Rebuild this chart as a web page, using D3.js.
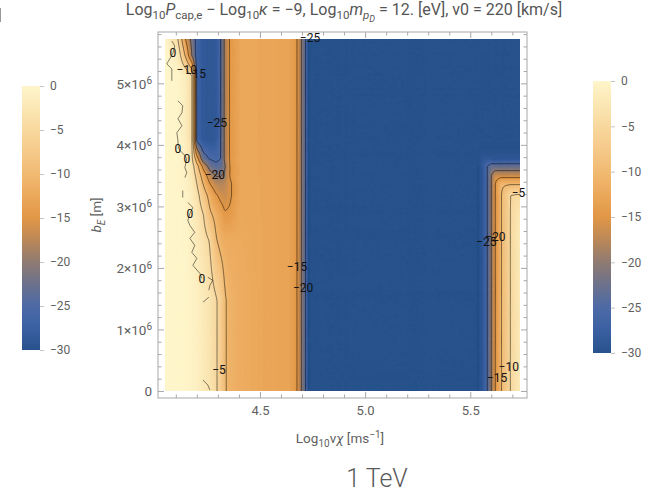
<!DOCTYPE html>
<html>
<head>
<meta charset="utf-8">
<script src="https://cdn.jsdelivr.net/npm/d3@7"></script>
<style>
  body { margin: 0; background: #fff; }
  text { font-family: Roboto, "Liberation Sans", Arial, sans-serif; }
</style>
</head>
<body>
<svg id="chart" width="652" height="492"></svg>
<script>
// ---- Data -------------------------------------------------------------
// Grid nodes: Log10 vχ [m/s] (columns) and b_E [10^6 m] (rows)
const logV = [4.049, 4.110, 4.148, 4.176, 4.200, 4.229, 4.262, 4.290, 4.314, 4.333, 4.357, 4.405,
              4.524, 4.643, 4.676, 4.695, 4.714, 4.733,
              5.167, 5.529, 5.557, 5.581, 5.600, 5.619, 5.648, 5.690, 5.736];
const bE = [0, 1.47, 2.45, 2.85, 3.18, 3.37, 3.50, 3.65, 3.78, 4.07, 4.72, 5.12, 5.45, 5.72];

// Log10 P_cap,e − Log10 κ at each node (one row per b_E value, bottom to top)
const logP = [
  [0.5, 0.3, 0, -0.5, -1, -1.8, -3, -4.5, -6.5, -9.6, -11, -11.8,   -12.8, -13.2, -14.8, -19.5, -24, -31,   -31, -31, -28.5, -25, -20, -15, -10, -5, -2],
  [0.5, 0.3, 0, -0.5, -1, -1.8, -3, -4.5, -6.5, -9.6, -11, -11.8,   -12.8, -13.2, -14.8, -19.5, -24, -31,   -31, -31, -28.5, -25, -20, -15, -10, -5, -2],
  [0.5, 0.2, -0.2, -1, -2, -3.3, -5.3, -9.6, -11.2, -11.8, -12, -12.2, -12.8, -13.2, -14.8, -19.5, -24, -31, -31, -31, -28.5, -25, -20, -15, -10, -5, -2],
  [0.5, 0.2, -0.3, -1.2, -2.5, -4.6, -9.2, -11, -13, -14.6, -14.4, -12.5, -12.8, -13.2, -14.8, -19.5, -24, -31, -31, -31, -28.5, -25, -20, -15, -10, -5, -2.5],
  [0.5, 0.1, -0.5, -1.5, -3.5, -7.5, -11.5, -14.5, -16, -16.5, -15.5, -12.5, -12.8, -13.2, -14.8, -19.5, -24, -31, -31, -31, -28.5, -25, -20, -15, -10, -5, -4.5],
  [0.5, 0, -0.7, -2, -5, -10, -15, -17.5, -18, -17.5, -15.5, -12.5, -12.8, -13.2, -14.8, -19.5, -24, -31, -31, -31, -28.5, -25, -20, -15, -10.5, -10.5, -10.5],
  [0.5, 0, -0.8, -2.5, -6, -12, -17.5, -20.3, -20.3, -19, -14.8, -12.6, -12.8, -13.2, -14.8, -19.5, -24, -31, -31, -31, -28.5, -25, -20, -16.5, -16.5, -16.5, -16.5],
  [0.5, 0, -1, -3, -8, -16, -22, -24, -23.5, -20.5, -14.8, -12.6, -12.8, -13.2, -14.8, -19.5, -24, -31, -31, -31, -28.5, -25, -23, -23, -23, -23, -23],
  [0.5, 0, -1.2, -4, -13, -23, -25.5, -26, -25, -19, -14.6, -12.6, -12.8, -13.2, -14.8, -19.5, -24, -31, -31, -31, -29, -29, -29, -29, -29, -29, -29],
  [0.5, 0, -1.5, -4.5, -26, -28.5, -29, -28.5, -25, -19, -14.6, -12.6, -12.8, -13.2, -14.8, -19.5, -24, -31, -31, -31, -31, -31, -31, -31, -31, -31, -31],
  [0.5, 0, -1.5, -4.5, -26, -28.5, -29, -28.5, -25, -19, -14.6, -12.6, -12.8, -13.2, -14.8, -19.5, -24, -31, -31, -31, -31, -31, -31, -31, -31, -31, -31],
  [0.5, 0, -1.5, -4.5, -26, -28.5, -29, -28.5, -25, -19, -14.6, -12.6, -12.8, -13.2, -14.8, -19.5, -24, -31, -31, -31, -31, -31, -31, -31, -31, -31, -31],
  [0.5, -2, -11, -20, -27, -28.5, -29, -28.5, -25, -19, -14.6, -12.6, -12.8, -13.2, -14.8, -19.5, -24, -31, -31, -31, -31, -31, -31, -31, -31, -31, -31],
  [0, -5, -15.5, -21.5, -26.5, -28.5, -29, -28.5, -25, -19, -14.6, -12.6, -12.8, -13.2, -14.8, -19.5, -24, -31, -31, -31, -31, -31, -31, -31, -31, -31, -31]
];

// Contour levels drawn from the grid
const contourLevels = [-25, -20, -15, -10, -5];

// The ragged zero-level contour in the low-velocity region, [Log10 vχ, b_E]
const zeroTraces = [
  [[4.081, 5.689], [4.095, 5.608], [4.086, 5.49], [4.071, 5.397], [4.057, 5.316], [4.081, 5.235], [4.081, 5.041]],
  [[4.110, 4.716], [4.133, 4.635], [4.129, 4.522], [4.110, 4.425], [4.129, 4.311], [4.105, 4.198], [4.110, 4.068],
   [4.112, 3.94], [4.143, 3.825], [4.152, 3.776], [4.143, 3.63], [4.152, 3.549], [4.143, 3.468]],
  [[4.133, 3.258], [4.133, 3.144]],
  [[4.157, 3.063], [4.181, 2.982], [4.167, 2.885], [4.157, 2.771], [4.167, 2.69], [4.190, 2.577], [4.167, 2.480],
   [4.190, 2.366], [4.176, 2.253], [4.200, 2.156], [4.181, 2.042], [4.214, 1.912], [4.224, 1.831]],
  [[4.252, 1.848], [4.276, 1.799], [4.262, 1.718], [4.257, 1.637]],
  [[4.257, 1.524], [4.229, 1.442]],
  [[4.229, 0.178], [4.252, 0.097], [4.262, 0.016]]
];

// Contour labels: text and anchor point [Log10 vχ, b_E]
const labelText = ["0", "−10", "−15", "−25", "0", "0", "−20", "0", "0", "−5",
                   "−25", "−15", "−20", "−5", "−25", "−20", "−10", "−15"];
const labelPos = [[4.086, 5.49], [4.152, 5.22], [4.195, 5.15], [4.295, 4.36], [4.110, 3.94], [4.152, 3.78],
                  [4.286, 3.52], [4.167, 2.885], [4.224, 1.83], [4.305, 0.34],
                  [4.738, 5.74], [4.676, 2.01], [4.705, 1.67], [5.729, 3.225], [5.576, 2.43], [5.619, 2.51],
                  [5.683, 0.40], [5.627, 0.22]];

const xTicks = [4.5, 5.0, 5.5];
const yTicks = [0, 1, 2, 3, 4, 5];
const barTicks = [0, -5, -10, -15, -20, -25, -30];

// Density gradient (value → colour)
const colorDomain = [-30, -27.5, -25, -22.5, -20, -17.5, -15, -12.5, -10, -7.5, -5, -2.5, 0];
const colorRange = ["#27528b", "#3a60a2", "#4d6aa6", "#6c718c", "#8f7b72", "#bb8858", "#e19746",
                    "#eba85b", "#f1ba72", "#f5c98a", "#f8d89e", "#fbe7b5", "#fef5ca"];

// ---- Layout -----------------------------------------------------------
const svg = d3.select("#chart");
const frame = { left: 158, right: 527, top: 32, bottom: 398 };
const xExt = [logV[0], logV[logV.length - 1]];
const yExt = [bE[0], bE[bE.length - 1]];
const padX = 0.02 * (xExt[1] - xExt[0]), padY = 0.02 * (yExt[1] - yExt[0]);
const x = d3.scaleLinear().domain([xExt[0] - padX, xExt[1] + padX]).range([frame.left, frame.right]);
const y = d3.scaleLinear().domain([yExt[0] - padY, yExt[1] + padY]).range([frame.bottom, frame.top]);
const color = d3.scaleLinear().domain(colorDomain).range(colorRange).interpolate(d3.interpolateRgb).clamp(true);

// ---- Field sampling (bilinear between grid nodes) ---------------------
function locate(arr, v) {
  let i = d3.bisectRight(arr, v) - 1;
  i = Math.max(0, Math.min(arr.length - 2, i));
  const t = Math.max(0, Math.min(1, (v - arr[i]) / (arr[i + 1] - arr[i])));
  return [i, t];
}
function field(lv, b) {
  const [i, t] = locate(logV, lv);
  const [j, u] = locate(bE, b);
  const r0 = logP[j], r1 = logP[j + 1];
  return (1 - t) * (1 - u) * r0[i] + t * (1 - u) * r0[i + 1] + (1 - t) * u * r1[i] + t * u * r1[i + 1];
}

const nx = 360, ny = 360, m = 2;
const gw = nx + 2 * m, gh = ny + 2 * m;
const dlv = (xExt[1] - xExt[0]) / (nx - 1), db = (yExt[1] - yExt[0]) / (ny - 1);
const lvAt = g => xExt[0] + (g - 0.5 - m) * dlv;
const bAt = g => yExt[1] - (g - 0.5 - m) * db;
const values = new Float64Array(gw * gh);
for (let gy = 0; gy < gh; gy++)
  for (let gx = 0; gx < gw; gx++)
    values[gy * gw + gx] = field(lvAt(gx + 0.5), bAt(gy + 0.5));

const proj = d3.geoTransform({ point(px, py) { this.stream.point(x(lvAt(px)), y(bAt(py))); } });
const path = d3.geoPath(proj);

// clip to the data region
svg.append("defs").append("clipPath").attr("id", "plotClip")
  .append("rect")
  .attr("x", x(xExt[0])).attr("y", y(yExt[1]))
  .attr("width", x(xExt[1]) - x(xExt[0])).attr("height", y(yExt[0]) - y(yExt[1]));

const plot = svg.append("g").attr("clip-path", "url(#plotClip)");

// filled density
const fillLevels = d3.range(-31.5, 0.76, 0.25);
const bands = d3.contours().size([gw, gh]).thresholds(fillLevels)(values);
plot.append("g").selectAll("path").data(bands).join("path")
  .attr("d", path)
  .attr("fill", d => color(d.value + 0.125))
  .attr("stroke", d => color(d.value + 0.125))
  .attr("stroke-width", 0.3);

// contour lines
const lineStyle = sel => sel.attr("fill", "none").attr("stroke", "rgba(0,0,0,0.55)").attr("stroke-width", 0.9);
const lines = d3.contours().size([gw, gh]).thresholds(contourLevels)(values);
plot.append("g").selectAll("path").data(lines).join("path").attr("d", path).call(lineStyle);

const zeroLine = d3.line().x(d => x(d[0])).y(d => y(d[1]));
plot.append("g").selectAll("path").data(zeroTraces).join("path").attr("d", zeroLine).call(lineStyle);

// ---- Frame and ticks ---------------------------------------------------
const axisColor = "#a8a8a8", textColor = "#5f5f5f";
svg.append("rect")
  .attr("x", frame.left).attr("y", frame.top)
  .attr("width", frame.right - frame.left).attr("height", frame.bottom - frame.top)
  .attr("fill", "none").attr("stroke", axisColor).attr("stroke-width", 1);

const xMinor = d3.range(4.1, 5.75, 0.1).filter(v => !xTicks.some(t => Math.abs(t - v) < 1e-6));
const yMinor = d3.range(0, 5.81, 0.2).filter(v => !yTicks.some(t => Math.abs(t - v) < 1e-6));

function styleAxis(g) {
  g.select(".domain").remove();
  g.selectAll(".tick line").attr("stroke", axisColor);
  g.selectAll(".tick text").attr("fill", textColor).attr("font-size", 13);
}
svg.append("g").attr("transform", `translate(0,${frame.bottom})`)
  .call(d3.axisBottom(x).tickValues(xTicks).tickSize(-6).tickPadding(8).tickFormat(d3.format(".1f"))).call(styleAxis);
svg.append("g").attr("transform", `translate(0,${frame.bottom})`)
  .call(d3.axisBottom(x).tickValues(xMinor).tickSize(-3.5).tickFormat("")).call(styleAxis);
svg.append("g").attr("transform", `translate(0,${frame.top})`)
  .call(d3.axisTop(x).tickValues(xTicks).tickSize(-6).tickFormat("")).call(styleAxis);
svg.append("g").attr("transform", `translate(0,${frame.top})`)
  .call(d3.axisTop(x).tickValues(xMinor).tickSize(-3.5).tickFormat("")).call(styleAxis);

const yAxisG = svg.append("g").attr("transform", `translate(${frame.left},0)`)
  .call(d3.axisLeft(y).tickValues(yTicks).tickSize(-6).tickFormat("")).call(styleAxis);
svg.append("g").attr("transform", `translate(${frame.left},0)`)
  .call(d3.axisLeft(y).tickValues(yMinor).tickSize(-3.5).tickFormat("")).call(styleAxis);
svg.append("g").attr("transform", `translate(${frame.right},0)`)
  .call(d3.axisRight(y).tickValues(yTicks).tickSize(-6).tickFormat("")).call(styleAxis);
svg.append("g").attr("transform", `translate(${frame.right},0)`)
  .call(d3.axisRight(y).tickValues(yMinor).tickSize(-3.5).tickFormat("")).call(styleAxis);

// y tick labels written as n×10^6
yAxisG.selectAll(".tick").each(function (d) {
  const t = d3.select(this).append("text")
    .attr("x", -6).attr("y", 0).attr("dy", "0.35em")
    .attr("text-anchor", "end").attr("fill", textColor).attr("font-size", 13.5);
  if (d === 0) { t.text("0"); return; }
  t.append("tspan").text(`${d}×10`);
  t.append("tspan").attr("dy", "-0.45em").attr("font-size", 10).text("6");
});

// ---- Contour labels ----------------------------------------------------
svg.append("g").selectAll("text").data(labelText).join("text")
  .attr("x", (d, i) => x(labelPos[i][0]))
  .attr("y", (d, i) => y(labelPos[i][1]))
  .attr("dy", "0.35em")
  .attr("text-anchor", "middle")
  .attr("font-size", 12)
  .attr("fill", "#111")
  .text(d => d);

// ---- Titles ------------------------------------------------------------
const title = svg.append("text").attr("x", 344).attr("y", 15).attr("text-anchor", "middle")
  .attr("font-size", 16).attr("fill", "#555");
[
  ["Log", 0], ["10", 4, 11.5], ["P", -4, null, true], ["cap,e", 4, 11.5], [" − Log", -4], ["10", 4, 11.5],
  ["κ", -4, null, true], [" = −9, Log", 0], ["10", 4, 11.5], ["m", -4, null, true], ["p", 4, 11.5, true],
  ["D", 3, 9, true], [" = 12. [eV], v0 = 220 [km/s]", -7]
].forEach(([s, dy, fs, it]) => {
  const ts = title.append("tspan").attr("dy", dy).text(s);
  if (fs) ts.attr("font-size", fs);
  if (it) ts.attr("font-style", "italic");
});

const xLab = svg.append("text").attr("x", 340).attr("y", 443).attr("text-anchor", "middle")
  .attr("font-size", 13.5).attr("fill", textColor);
xLab.append("tspan").text("Log");
xLab.append("tspan").attr("dy", 4).attr("font-size", 10).text("10");
xLab.append("tspan").attr("dy", -4).text("v");
xLab.append("tspan").attr("font-style", "italic").text("χ");
xLab.append("tspan").text(" [ms");
xLab.append("tspan").attr("dy", -5).attr("font-size", 10).text("−1");
xLab.append("tspan").attr("dy", 5).text("]");

const yLab = svg.append("text").attr("transform", "translate(101,215) rotate(-90)")
  .attr("text-anchor", "middle").attr("font-size", 13.5).attr("fill", textColor);
yLab.append("tspan").attr("font-style", "italic").text("b");
yLab.append("tspan").attr("dy", 3.5).attr("font-size", 10).attr("font-style", "italic").text("E");
yLab.append("tspan").attr("dy", -3.5).text(" [m]");

svg.append("text").attr("x", 377).attr("y", 487).attr("text-anchor", "middle")
  .attr("font-size", 25).attr("font-weight", 300).attr("fill", "#5a5a5a").text("1 TeV");

svg.append("line").attr("x1", 0.5).attr("x2", 0.5).attr("y1", 8).attr("y2", 22)
  .attr("stroke", "#999").attr("stroke-width", 1);

// ---- Colour bars ------------------------------------------------------
const grad = svg.select("defs").append("linearGradient").attr("id", "barGrad")
  .attr("x1", 0).attr("y1", 0).attr("x2", 0).attr("y2", 1);
grad.selectAll("stop").data(d3.range(0, -30.01, -1)).join("stop")
  .attr("offset", d => -d / 30).attr("stop-color", d => color(d));

function colorBar(x0, top, bottom) {
  const s = d3.scaleLinear().domain([0, -30]).range([top, bottom]);
  const g = svg.append("g");
  g.append("rect").attr("x", x0).attr("y", top).attr("width", 18).attr("height", bottom - top)
    .attr("fill", "url(#barGrad)");
  const ax = g.append("g").attr("transform", `translate(${x0 + 18},0)`);
  ax.call(d3.axisRight(s).tickValues(d3.range(0, -30.01, -1.25)).tickSize(2.5).tickFormat(""));
  ax.call(d3.axisRight(s).tickValues(barTicks).tickSize(4).tickPadding(6).tickFormat(d => d === 0 ? "0" : "−" + (-d)));
  ax.selectAll(".domain").remove();
  ax.selectAll(".tick line").attr("stroke", "#c4c4c4");
  ax.selectAll(".tick text").attr("fill", textColor).attr("font-size", 12);
}
colorBar(22, 86, 350);
colorBar(593, 81, 353);
</script>
</body>
</html>
